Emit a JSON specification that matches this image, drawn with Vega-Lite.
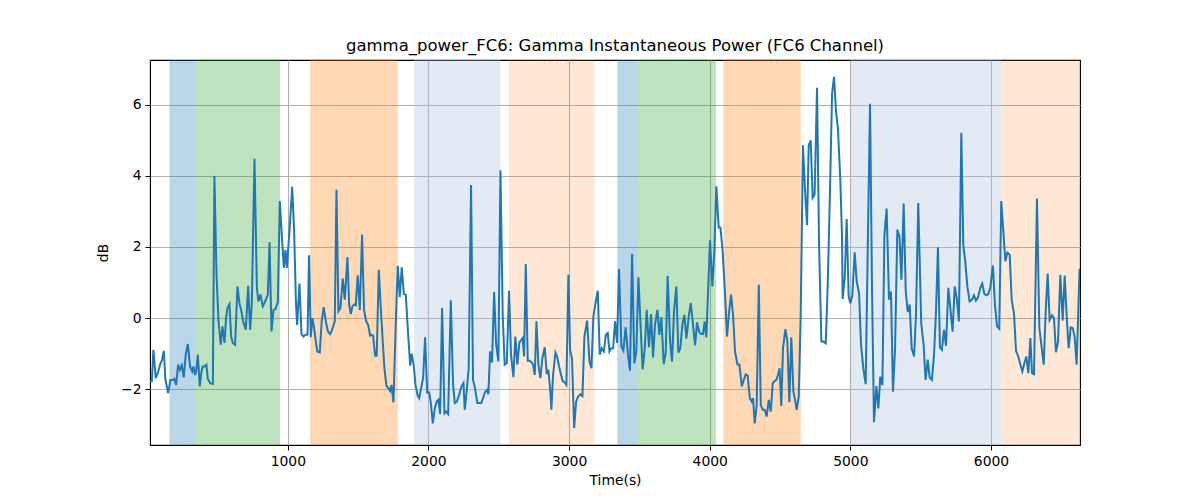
{
  "$schema": "https://vega.github.io/schema/vega-lite/v6.json",
  "width": 930,
  "height": 385,
  "autosize": {"type": "none"},
  "padding": {"left": 150, "top": 60, "right": 120, "bottom": 55},
  "background": "white",
  "title": {
    "text": "gamma_power_FC6: Gamma Instantaneous Power (FC6 Channel)",
    "fontSize": 16.5,
    "fontWeight": "normal",
    "font": "DejaVu Sans",
    "color": "black",
    "anchor": "middle",
    "offset": 6
  },
  "datasets": {
    "spans": [
      {"start": 158, "end": 341, "kind": "a"},
      {"start": 341, "end": 945, "kind": "b"},
      {"start": 1158, "end": 1782, "kind": "c"},
      {"start": 1898, "end": 2512, "kind": "d"},
      {"start": 2571, "end": 3180, "kind": "e"},
      {"start": 3343, "end": 3488, "kind": "a"},
      {"start": 3488, "end": 4045, "kind": "b"},
      {"start": 4097, "end": 4647, "kind": "c"},
      {"start": 5005, "end": 6071, "kind": "d"},
      {"start": 6071, "end": 6633, "kind": "e"}
    ],
    "power": [
      {"t": 21, "v": -1.78}, {"t": 33, "v": -1.78}, {"t": 44, "v": -0.89}, {"t": 61, "v": -1.69},
      {"t": 75, "v": -1.55}, {"t": 92, "v": -1.31}, {"t": 106, "v": -1.17}, {"t": 118, "v": -0.92},
      {"t": 130, "v": -1.74}, {"t": 149, "v": -2.11}, {"t": 165, "v": -1.74}, {"t": 182, "v": -1.74},
      {"t": 194, "v": -1.71}, {"t": 206, "v": -1.88}, {"t": 220, "v": -1.31}, {"t": 232, "v": -1.46},
      {"t": 246, "v": -1.33}, {"t": 260, "v": -1.67}, {"t": 274, "v": -1.03}, {"t": 289, "v": -0.73},
      {"t": 305, "v": -1.36}, {"t": 320, "v": -1.5}, {"t": 329, "v": -1.36}, {"t": 341, "v": -1.6},
      {"t": 348, "v": -1.5}, {"t": 360, "v": -1.03}, {"t": 374, "v": -1.92}, {"t": 386, "v": -1.5},
      {"t": 395, "v": -1.36}, {"t": 407, "v": -1.36}, {"t": 421, "v": -1.31}, {"t": 431, "v": -1.71},
      {"t": 448, "v": -1.83}, {"t": 467, "v": -1.85}, {"t": 478, "v": 4.0}, {"t": 493, "v": 1.22},
      {"t": 507, "v": -0.09}, {"t": 523, "v": -0.75}, {"t": 535, "v": -0.23}, {"t": 550, "v": -0.7},
      {"t": 561, "v": 0.0}, {"t": 571, "v": 0.28}, {"t": 585, "v": 0.39}, {"t": 597, "v": -0.52},
      {"t": 609, "v": -0.7}, {"t": 625, "v": -0.75}, {"t": 642, "v": 0.89}, {"t": 656, "v": 0.42},
      {"t": 670, "v": 0.19}, {"t": 682, "v": -0.09}, {"t": 701, "v": -0.33}, {"t": 718, "v": 0.91},
      {"t": 732, "v": -0.33}, {"t": 744, "v": 0.42}, {"t": 763, "v": 4.48}, {"t": 780, "v": 0.85},
      {"t": 791, "v": 0.47}, {"t": 806, "v": 0.66}, {"t": 822, "v": 0.33}, {"t": 839, "v": 0.47},
      {"t": 858, "v": 0.66}, {"t": 870, "v": 2.13}, {"t": 884, "v": -0.38}, {"t": 898, "v": 0.23},
      {"t": 912, "v": 0.25}, {"t": 929, "v": 0.45}, {"t": 943, "v": 3.29}, {"t": 957, "v": 2.35},
      {"t": 972, "v": 1.41}, {"t": 983, "v": 1.92}, {"t": 993, "v": 1.41}, {"t": 1005, "v": 2.07},
      {"t": 1019, "v": 2.91}, {"t": 1031, "v": 3.69}, {"t": 1045, "v": 2.44}, {"t": 1057, "v": 0.52},
      {"t": 1066, "v": -0.19}, {"t": 1083, "v": 0.97}, {"t": 1097, "v": -0.45}, {"t": 1111, "v": -0.52},
      {"t": 1126, "v": -0.47}, {"t": 1140, "v": -0.47}, {"t": 1151, "v": 1.77}, {"t": 1163, "v": -0.54},
      {"t": 1175, "v": 0.0}, {"t": 1187, "v": -0.28}, {"t": 1199, "v": -0.66}, {"t": 1210, "v": -0.94},
      {"t": 1227, "v": -0.97}, {"t": 1241, "v": -0.09}, {"t": 1255, "v": 0.31}, {"t": 1270, "v": -0.09},
      {"t": 1286, "v": -0.38}, {"t": 1301, "v": -0.45}, {"t": 1312, "v": -0.36}, {"t": 1334, "v": -0.09},
      {"t": 1346, "v": 3.61}, {"t": 1360, "v": 0.19}, {"t": 1374, "v": 0.28}, {"t": 1391, "v": 1.11},
      {"t": 1405, "v": 0.52}, {"t": 1424, "v": 1.72}, {"t": 1436, "v": 0.38}, {"t": 1448, "v": 0.11},
      {"t": 1459, "v": 0.33}, {"t": 1474, "v": 0.38}, {"t": 1483, "v": 0.36}, {"t": 1497, "v": 1.2},
      {"t": 1512, "v": 0.23}, {"t": 1528, "v": 2.35}, {"t": 1542, "v": 0.23}, {"t": 1557, "v": -0.09},
      {"t": 1571, "v": -0.19}, {"t": 1585, "v": -0.49}, {"t": 1597, "v": -0.47}, {"t": 1606, "v": -0.49},
      {"t": 1621, "v": -1.06}, {"t": 1632, "v": -1.06}, {"t": 1647, "v": 1.36}, {"t": 1661, "v": 0.28},
      {"t": 1675, "v": -0.66}, {"t": 1687, "v": -1.41}, {"t": 1701, "v": -1.9}, {"t": 1715, "v": -1.97},
      {"t": 1727, "v": -2.05}, {"t": 1737, "v": -1.88}, {"t": 1751, "v": -2.37}, {"t": 1768, "v": -0.09},
      {"t": 1782, "v": 1.47}, {"t": 1796, "v": 0.59}, {"t": 1810, "v": 1.43}, {"t": 1825, "v": 0.68},
      {"t": 1839, "v": 0.66}, {"t": 1855, "v": -0.42}, {"t": 1870, "v": -1.34}, {"t": 1881, "v": -1.0},
      {"t": 1896, "v": -1.36}, {"t": 1908, "v": -1.88}, {"t": 1922, "v": -2.16}, {"t": 1934, "v": -2.25},
      {"t": 1948, "v": -1.97}, {"t": 1962, "v": -1.69}, {"t": 1976, "v": -0.54}, {"t": 1991, "v": -2.09},
      {"t": 2005, "v": -2.09}, {"t": 2017, "v": -2.39}, {"t": 2031, "v": -2.96}, {"t": 2045, "v": -2.54},
      {"t": 2059, "v": -2.35}, {"t": 2071, "v": -2.3}, {"t": 2083, "v": -2.7}, {"t": 2097, "v": 0.28},
      {"t": 2114, "v": -2.68}, {"t": 2126, "v": -2.63}, {"t": 2140, "v": -2.7}, {"t": 2159, "v": 0.5},
      {"t": 2175, "v": -1.88}, {"t": 2187, "v": -2.39}, {"t": 2202, "v": -2.35}, {"t": 2218, "v": -2.16},
      {"t": 2235, "v": -1.92}, {"t": 2249, "v": -1.83}, {"t": 2258, "v": -2.58}, {"t": 2274, "v": -1.97},
      {"t": 2286, "v": -1.41}, {"t": 2303, "v": 3.74}, {"t": 2317, "v": -1.74}, {"t": 2331, "v": -1.97},
      {"t": 2348, "v": -2.39}, {"t": 2362, "v": -2.39}, {"t": 2376, "v": -2.39}, {"t": 2388, "v": -2.25},
      {"t": 2403, "v": -2.08}, {"t": 2417, "v": -2.02}, {"t": 2426, "v": -2.14}, {"t": 2438, "v": -0.94},
      {"t": 2452, "v": -1.25}, {"t": 2467, "v": 0.73}, {"t": 2481, "v": -0.72}, {"t": 2497, "v": -1.22},
      {"t": 2512, "v": 4.16}, {"t": 2528, "v": 0.09}, {"t": 2542, "v": -1.31}, {"t": 2557, "v": -1.27},
      {"t": 2573, "v": 0.77}, {"t": 2587, "v": -1.03}, {"t": 2604, "v": -1.66}, {"t": 2618, "v": -0.52},
      {"t": 2632, "v": -1.31}, {"t": 2647, "v": -0.68}, {"t": 2661, "v": -0.61}, {"t": 2670, "v": -0.56},
      {"t": 2680, "v": -1.08}, {"t": 2692, "v": 1.52}, {"t": 2706, "v": -1.2}, {"t": 2720, "v": -1.2},
      {"t": 2732, "v": -1.24}, {"t": 2744, "v": -1.31}, {"t": 2756, "v": -1.6}, {"t": 2768, "v": -0.09},
      {"t": 2782, "v": -1.33}, {"t": 2796, "v": -1.69}, {"t": 2810, "v": -1.13}, {"t": 2827, "v": -0.82},
      {"t": 2841, "v": -1.58}, {"t": 2853, "v": -1.46}, {"t": 2867, "v": -2.07}, {"t": 2874, "v": -2.58},
      {"t": 2886, "v": -1.6}, {"t": 2903, "v": -0.97}, {"t": 2915, "v": -1.08}, {"t": 2929, "v": -1.36},
      {"t": 2943, "v": -1.6}, {"t": 2955, "v": -1.78}, {"t": 2969, "v": -1.81}, {"t": 2981, "v": -1.88},
      {"t": 2995, "v": 1.22}, {"t": 3007, "v": -0.89}, {"t": 3021, "v": -1.15}, {"t": 3036, "v": -3.1},
      {"t": 3050, "v": -2.35}, {"t": 3064, "v": -2.21}, {"t": 3081, "v": -2.14}, {"t": 3095, "v": -2.19},
      {"t": 3109, "v": -0.52}, {"t": 3128, "v": -0.07}, {"t": 3145, "v": -1.22}, {"t": 3159, "v": -1.41},
      {"t": 3173, "v": 0.05}, {"t": 3190, "v": 0.47}, {"t": 3204, "v": 0.77}, {"t": 3218, "v": -1.03},
      {"t": 3232, "v": -0.85}, {"t": 3247, "v": -0.94}, {"t": 3261, "v": -0.47}, {"t": 3275, "v": -0.42},
      {"t": 3287, "v": -0.94}, {"t": 3299, "v": -0.85}, {"t": 3313, "v": -0.85}, {"t": 3327, "v": -0.09},
      {"t": 3341, "v": -0.7}, {"t": 3355, "v": 1.38}, {"t": 3372, "v": -0.8}, {"t": 3386, "v": -0.91},
      {"t": 3402, "v": -0.26}, {"t": 3419, "v": -1.03}, {"t": 3433, "v": -1.48}, {"t": 3448, "v": 1.81},
      {"t": 3464, "v": -1.27}, {"t": 3478, "v": -0.94}, {"t": 3493, "v": 1.15}, {"t": 3507, "v": -0.09},
      {"t": 3523, "v": -1.44}, {"t": 3538, "v": -0.85}, {"t": 3552, "v": 0.23}, {"t": 3568, "v": -0.82},
      {"t": 3583, "v": 0.11}, {"t": 3597, "v": -1.11}, {"t": 3611, "v": -0.19}, {"t": 3628, "v": 0.23},
      {"t": 3642, "v": -0.47}, {"t": 3656, "v": 0.03}, {"t": 3673, "v": -1.3}, {"t": 3687, "v": -0.97},
      {"t": 3701, "v": 1.19}, {"t": 3718, "v": -0.64}, {"t": 3732, "v": -1.22}, {"t": 3746, "v": 0.19},
      {"t": 3763, "v": 0.89}, {"t": 3777, "v": -0.97}, {"t": 3791, "v": -0.85}, {"t": 3806, "v": -0.17},
      {"t": 3820, "v": 0.09}, {"t": 3834, "v": -0.58}, {"t": 3851, "v": 0.05}, {"t": 3865, "v": 0.42},
      {"t": 3879, "v": -0.09}, {"t": 3896, "v": -0.77}, {"t": 3910, "v": -0.12}, {"t": 3924, "v": -0.38},
      {"t": 3938, "v": -0.45}, {"t": 3953, "v": -0.45}, {"t": 3964, "v": -0.09}, {"t": 3976, "v": -0.54},
      {"t": 3991, "v": 1.03}, {"t": 4002, "v": 2.19}, {"t": 4019, "v": 0.89}, {"t": 4033, "v": 1.88},
      {"t": 4047, "v": 3.71}, {"t": 4064, "v": 2.55}, {"t": 4076, "v": 2.55}, {"t": 4092, "v": 1.88},
      {"t": 4109, "v": 0.66}, {"t": 4123, "v": -0.52}, {"t": 4137, "v": 0.14}, {"t": 4152, "v": 0.66},
      {"t": 4166, "v": 0.09}, {"t": 4180, "v": -0.94}, {"t": 4197, "v": -1.3}, {"t": 4211, "v": -1.31},
      {"t": 4228, "v": -1.92}, {"t": 4242, "v": -1.74}, {"t": 4256, "v": -1.58}, {"t": 4270, "v": -1.62},
      {"t": 4285, "v": -2.25}, {"t": 4299, "v": -2.35}, {"t": 4308, "v": -2.25}, {"t": 4320, "v": -2.96},
      {"t": 4334, "v": -2.44}, {"t": 4349, "v": 0.94}, {"t": 4363, "v": -2.44}, {"t": 4377, "v": -2.58},
      {"t": 4391, "v": -2.58}, {"t": 4405, "v": -2.77}, {"t": 4420, "v": -2.3}, {"t": 4434, "v": -2.63},
      {"t": 4448, "v": -1.83}, {"t": 4462, "v": -1.77}, {"t": 4474, "v": -1.74}, {"t": 4485, "v": -1.6},
      {"t": 4497, "v": -1.41}, {"t": 4509, "v": -2.47}, {"t": 4521, "v": -0.85}, {"t": 4538, "v": -0.31},
      {"t": 4552, "v": -0.64}, {"t": 4566, "v": -2.37}, {"t": 4580, "v": -0.54}, {"t": 4595, "v": -2.07},
      {"t": 4609, "v": -2.35}, {"t": 4618, "v": -2.58}, {"t": 4633, "v": -2.21}, {"t": 4647, "v": 0.09},
      {"t": 4663, "v": 4.86}, {"t": 4678, "v": 3.57}, {"t": 4692, "v": 2.61}, {"t": 4704, "v": 4.86},
      {"t": 4718, "v": 5.0}, {"t": 4732, "v": 3.38}, {"t": 4746, "v": 3.47}, {"t": 4763, "v": 6.48},
      {"t": 4777, "v": 2.16}, {"t": 4794, "v": -0.66}, {"t": 4808, "v": -0.66}, {"t": 4825, "v": -0.71},
      {"t": 4839, "v": 0.94}, {"t": 4853, "v": 3.19}, {"t": 4870, "v": 6.31}, {"t": 4884, "v": 6.79},
      {"t": 4898, "v": 5.82}, {"t": 4912, "v": 5.31}, {"t": 4929, "v": 3.85}, {"t": 4941, "v": 2.25},
      {"t": 4945, "v": 0.54}, {"t": 4960, "v": 1.13}, {"t": 4974, "v": 2.79}, {"t": 4988, "v": 0.61},
      {"t": 5000, "v": 0.42}, {"t": 5014, "v": 0.63}, {"t": 5031, "v": 1.85}, {"t": 5045, "v": 1.03},
      {"t": 5062, "v": 0.7}, {"t": 5076, "v": -0.75}, {"t": 5092, "v": -1.41}, {"t": 5109, "v": -1.86},
      {"t": 5126, "v": 2.54}, {"t": 5140, "v": 6.03}, {"t": 5154, "v": 0.85}, {"t": 5168, "v": -2.93},
      {"t": 5185, "v": -1.91}, {"t": 5199, "v": -2.54}, {"t": 5213, "v": -1.65}, {"t": 5228, "v": -1.88},
      {"t": 5242, "v": 2.32}, {"t": 5258, "v": 3.08}, {"t": 5275, "v": 0.52}, {"t": 5289, "v": 0.75},
      {"t": 5303, "v": -2.07}, {"t": 5318, "v": -0.85}, {"t": 5334, "v": 2.49}, {"t": 5349, "v": 2.3},
      {"t": 5363, "v": 1.08}, {"t": 5379, "v": 3.22}, {"t": 5394, "v": 0.75}, {"t": 5408, "v": 0.17},
      {"t": 5422, "v": 0.38}, {"t": 5436, "v": -0.85}, {"t": 5453, "v": -1.08}, {"t": 5467, "v": 0.12},
      {"t": 5483, "v": 3.24}, {"t": 5504, "v": -0.14}, {"t": 5521, "v": -0.75}, {"t": 5535, "v": -1.74},
      {"t": 5550, "v": -1.17}, {"t": 5564, "v": -1.67}, {"t": 5580, "v": -1.74}, {"t": 5595, "v": -1.03},
      {"t": 5609, "v": 0.19}, {"t": 5623, "v": 1.99}, {"t": 5637, "v": -0.83}, {"t": 5651, "v": -0.89},
      {"t": 5666, "v": -0.33}, {"t": 5680, "v": -0.78}, {"t": 5697, "v": 0.85}, {"t": 5711, "v": 0.28},
      {"t": 5727, "v": -0.38}, {"t": 5742, "v": 0.89}, {"t": 5758, "v": 0.52}, {"t": 5772, "v": -0.09},
      {"t": 5789, "v": 5.21}, {"t": 5803, "v": 2.07}, {"t": 5817, "v": 1.6}, {"t": 5832, "v": 0.89},
      {"t": 5848, "v": 0.47}, {"t": 5865, "v": 0.52}, {"t": 5879, "v": 0.64}, {"t": 5893, "v": 0.49},
      {"t": 5908, "v": 0.58}, {"t": 5924, "v": 0.85}, {"t": 5938, "v": 0.97}, {"t": 5953, "v": 0.68},
      {"t": 5967, "v": 0.64}, {"t": 5981, "v": 0.68}, {"t": 5995, "v": 0.85}, {"t": 6014, "v": 1.48},
      {"t": 6028, "v": 0.38}, {"t": 6043, "v": -0.23}, {"t": 6059, "v": -0.3}, {"t": 6073, "v": 3.29},
      {"t": 6088, "v": 2.44}, {"t": 6102, "v": 1.6}, {"t": 6116, "v": 1.84}, {"t": 6133, "v": 1.78},
      {"t": 6147, "v": 0.52}, {"t": 6164, "v": 0.11}, {"t": 6178, "v": -0.92}, {"t": 6194, "v": -1.08},
      {"t": 6209, "v": -1.31}, {"t": 6223, "v": -1.5}, {"t": 6237, "v": -1.27}, {"t": 6251, "v": -1.08},
      {"t": 6266, "v": -1.55}, {"t": 6280, "v": -0.56}, {"t": 6292, "v": -1.55}, {"t": 6306, "v": -1.58},
      {"t": 6327, "v": 3.36}, {"t": 6344, "v": -0.28}, {"t": 6358, "v": -0.75}, {"t": 6375, "v": -1.31},
      {"t": 6389, "v": 0.19}, {"t": 6403, "v": 1.25}, {"t": 6417, "v": -0.05}, {"t": 6434, "v": 0.08},
      {"t": 6448, "v": 0.0}, {"t": 6462, "v": -0.96}, {"t": 6477, "v": -0.66}, {"t": 6493, "v": 1.22},
      {"t": 6510, "v": -0.07}, {"t": 6524, "v": 1.2}, {"t": 6538, "v": 0.09}, {"t": 6552, "v": -0.85},
      {"t": 6567, "v": -0.26}, {"t": 6581, "v": -0.28}, {"t": 6595, "v": -0.52}, {"t": 6609, "v": -1.31},
      {"t": 6630, "v": 1.39}
    ]
  },
  "layer": [
    {
      "data": {"name": "spans"},
      "mark": {"type": "rect"},
      "encoding": {
        "x": {"field": "start", "type": "quantitative"},
        "x2": {"field": "end"},
        "color": {
          "field": "kind",
          "type": "nominal",
          "legend": null,
          "scale": {
            "domain": ["a", "b", "c", "d", "e"],
            "range": [
              "rgba(31,119,180,0.3)",
              "rgba(44,160,44,0.3)",
              "rgba(255,127,14,0.3)",
              "rgba(176,196,222,0.35)",
              "rgba(255,127,14,0.17)"
            ]
          }
        }
      }
    },
    {
      "data": {"name": "power"},
      "mark": {"type": "line", "color": "#1f77b4", "strokeWidth": 2, "clip": true},
      "encoding": {
        "x": {"field": "t", "type": "quantitative"},
        "y": {"field": "v", "type": "quantitative"}
      }
    }
  ],
  "encoding": {
    "x": {
      "type": "quantitative",
      "title": "Time(s)",
      "scale": {"domain": [20, 6633], "nice": false, "zero": false},
      "axis": {"values": [1000, 2000, 3000, 4000, 5000, 6000], "format": "d"}
    },
    "y": {
      "type": "quantitative",
      "title": "dB",
      "scale": {"domain": [-3.57, 7.26], "nice": false, "zero": false},
      "axis": {"values": [-2, 0, 2, 4, 6], "format": "d"}
    }
  },
  "config": {
    "view": {"stroke": "black", "strokeWidth": 1.1},
    "axis": {
      "labelFont": "DejaVu Sans",
      "titleFont": "DejaVu Sans",
      "labelFontSize": 13.9,
      "titleFontSize": 13.9,
      "titleFontWeight": "normal",
      "labelColor": "black",
      "titleColor": "black",
      "domainColor": "black",
      "tickColor": "black",
      "tickSize": 5,
      "labelPadding": 4,
      "gridColor": "#b0b0b0",
      "gridWidth": 1.1
    },
    "axisX": {"titlePadding": 6},
    "axisY": {"titlePadding": 10, "labelAngle": 0}
  }
}
